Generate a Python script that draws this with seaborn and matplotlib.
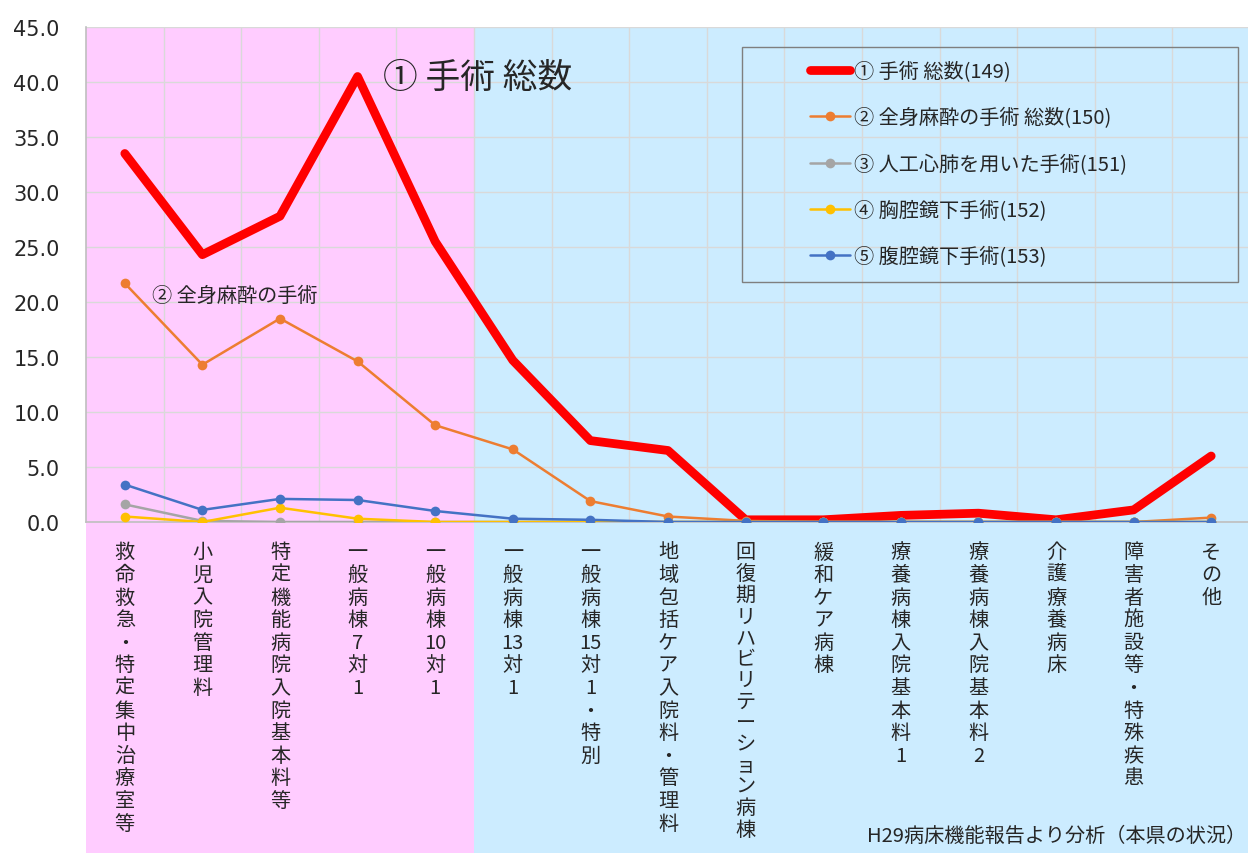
import numpy as np
import pandas as pd
import matplotlib
matplotlib.use("Agg")
import matplotlib.pyplot as plt
import matplotlib.transforms as mtransforms
from matplotlib.patches import Rectangle
from matplotlib.ticker import MultipleLocator, FixedLocator
import seaborn as sns

# categories (hospital ward types)
categories = ["救命救急・特定集中治療室等", "小児入院管理料", "特定機能病院入院基本料等",
              "一般病棟7対1", "一般病棟10対1", "一般病棟13対1", "一般病棟15対1・特別",
              "地域包括ケア入院料・管理料", "回復期リハビリテーション病棟", "緩和ケア病棟",
              "療養病棟入院基本料1", "療養病棟入院基本料2", "介護療養病床",
              "障害者施設等・特殊疾患", "その他"]

surgery_total = [33.5, 24.3, 27.8, 40.5, 25.5, 14.7, 7.4, 6.5, 0.2, 0.2, 0.6, 0.8, 0.2, 1.1, 6.0]
general_anes = [21.7, 14.3, 18.5, 14.6, 8.8, 6.6, 1.9, 0.5, 0.1, 0.0, 0.0, 0.0, 0.0, 0.0, 0.4]
heart_lung = [1.6, 0.1, 0.0, 0.0, 0.0, 0.0, 0.0, 0.0, 0.0, 0.0, 0.0, 0.0, 0.0, 0.0, 0.0]
thoracoscope = [0.5, 0.0, 1.3, 0.3, 0.0, 0.0, 0.0, 0.0, 0.0, 0.0, 0.0, 0.0, 0.0, 0.0, 0.0]
laparoscope = [3.4, 1.1, 2.1, 2.0, 1.0, 0.3, 0.2, 0.0, 0.0, 0.0, 0.0, 0.0, 0.0, 0.0, 0.0]

series_names = ["① 手術 総数(149)", "② 全身麻酔の手術 総数(150)", "③ 人工心肺を用いた手術(151)",
                "④ 胸腔鏡下手術(152)", "⑤ 腹腔鏡下手術(153)"]
series_values = [surgery_total, general_anes, heart_lung, thoracoscope, laparoscope]
series_colors = ["#FF0000", "#ED7D31", "#A5A5A5", "#FFC000", "#4472C4"]

sns.set_style("white")
plt.rcParams['font.family'] = ['Noto Sans CJK JP', 'DejaVu Sans']

fig = plt.figure(figsize=(12.48, 8.54), dpi=100)
W, H = 1248, 854
ax = fig.add_axes([86 / W, (H - 523) / H, (1250 - 86) / W, 495 / H])
ax.set_facecolor("none")

x = np.arange(len(categories))

# background bands (pink: high acuity wards, blue: others)
trans = mtransforms.blended_transform_factory(ax.transData, ax.transAxes)
ybot = -(H - 523) / 495
ax.add_patch(Rectangle((-0.5, ybot), 5, 1 - ybot, transform=trans, facecolor="#FFCCFF",
                       edgecolor="none", clip_on=False, zorder=0.1))
ax.add_patch(Rectangle((4.5, ybot), 11, 1 - ybot, transform=trans, facecolor="#CCECFF",
                       edgecolor="none", clip_on=False, zorder=0.1))

# series 1 at the bottom, series 5 on top (as in the original)
for i in range(5):
    if i == 0:
        sns.lineplot(x=x, y=series_values[i], ax=ax, color=series_colors[i], linewidth=6.3,
                     label=series_names[i], zorder=3, solid_joinstyle="round")
    else:
        sns.lineplot(x=x, y=series_values[i], ax=ax, color=series_colors[i], linewidth=1.8,
                     marker="o", markersize=7, markeredgewidth=0, label=series_names[i],
                     zorder=3 + i * 0.1)

ax.set_xlim(-0.5, 14.5)
ax.set_ylim(0, 45)
ax.yaxis.set_major_locator(MultipleLocator(5))
ax.yaxis.set_major_formatter(matplotlib.ticker.FuncFormatter(lambda v, p: f"{v:.1f}"))
ax.set_axisbelow(True)
ax.grid(axis="y", color="#D9D9D9", linewidth=1)
ax.xaxis.set_minor_locator(FixedLocator(np.arange(0.5, 14.5, 1)))
ax.grid(axis="x", which="minor", color="#D9D9D9", linewidth=1)
ax.tick_params(axis="y", labelsize=15, length=0, pad=19)
for lab in ax.get_yticklabels():
    lab.set_family(['DejaVu Sans'])


def vertical(s):
    # stack characters top to bottom, keeping digit runs together
    tokens = []
    buf = ""
    for ch in s:
        if ch.isascii() and ch.isdigit():
            buf += ch
        else:
            if buf:
                tokens.append(buf)
                buf = ""
            tokens.append(ch)
    if buf:
        tokens.append(buf)
    return "\n".join(tokens)


ax.set_xticks(x)
ax.set_xticklabels([vertical(c) for c in categories], fontsize=14.5, linespacing=1.1,
                   va="top")
ax.tick_params(axis="x", which="both", length=0, pad=14)
# the longest label is squeezed a little so it stays inside the figure
for lab in ax.get_xticklabels():
    if lab.get_text().count("\n") >= 13:
        lab.set_linespacing(1.02)

for side in ["top", "right"]:
    ax.spines[side].set_visible(False)
ax.spines["left"].set_color("#BFBFBF")
ax.spines["bottom"].set_color("#BFBFBF")
ax.spines["left"].set_linewidth(1.2)
ax.spines["bottom"].set_linewidth(1.2)
ax.set_xlabel("")
ax.set_ylabel("")

ax.text(3.33, 40.4, "① 手術 総数", fontsize=25, va="center", ha="left", zorder=6)
ax.text(0.35, 20.6, "② 全身麻酔の手術", fontsize=14.5, va="center", ha="left", zorder=6)

# legend frame drawn separately to match the wide original box
fig.add_artist(Rectangle((742 / W, 1 - 283 / H), (1238 - 742) / W, (283 - 48) / H,
                         transform=fig.transFigure, facecolor="none", edgecolor="#7F7F7F",
                         linewidth=1, zorder=7))
handles, labels = ax.get_legend_handles_labels()
order = [labels.index(n) for n in series_names]
leg = ax.legend([handles[k] for k in order], [labels[k] for k in order],
                loc="upper left", bbox_to_anchor=(810 / W, 1 - 62 / H),
                bbox_transform=fig.transFigure,
                fontsize=14.5, frameon=False, labelspacing=1.25,
                handlelength=2.0, handletextpad=0.2, borderpad=0, borderaxespad=0)
leg.set_zorder(7)

fig.text(1246 / W, 1 - 836 / H, "H29病床機能報告より分析（本県の状況）", fontsize=14.5,
         ha="right", va="center")

fig.savefig("out.png", dpi=100, facecolor="white")
